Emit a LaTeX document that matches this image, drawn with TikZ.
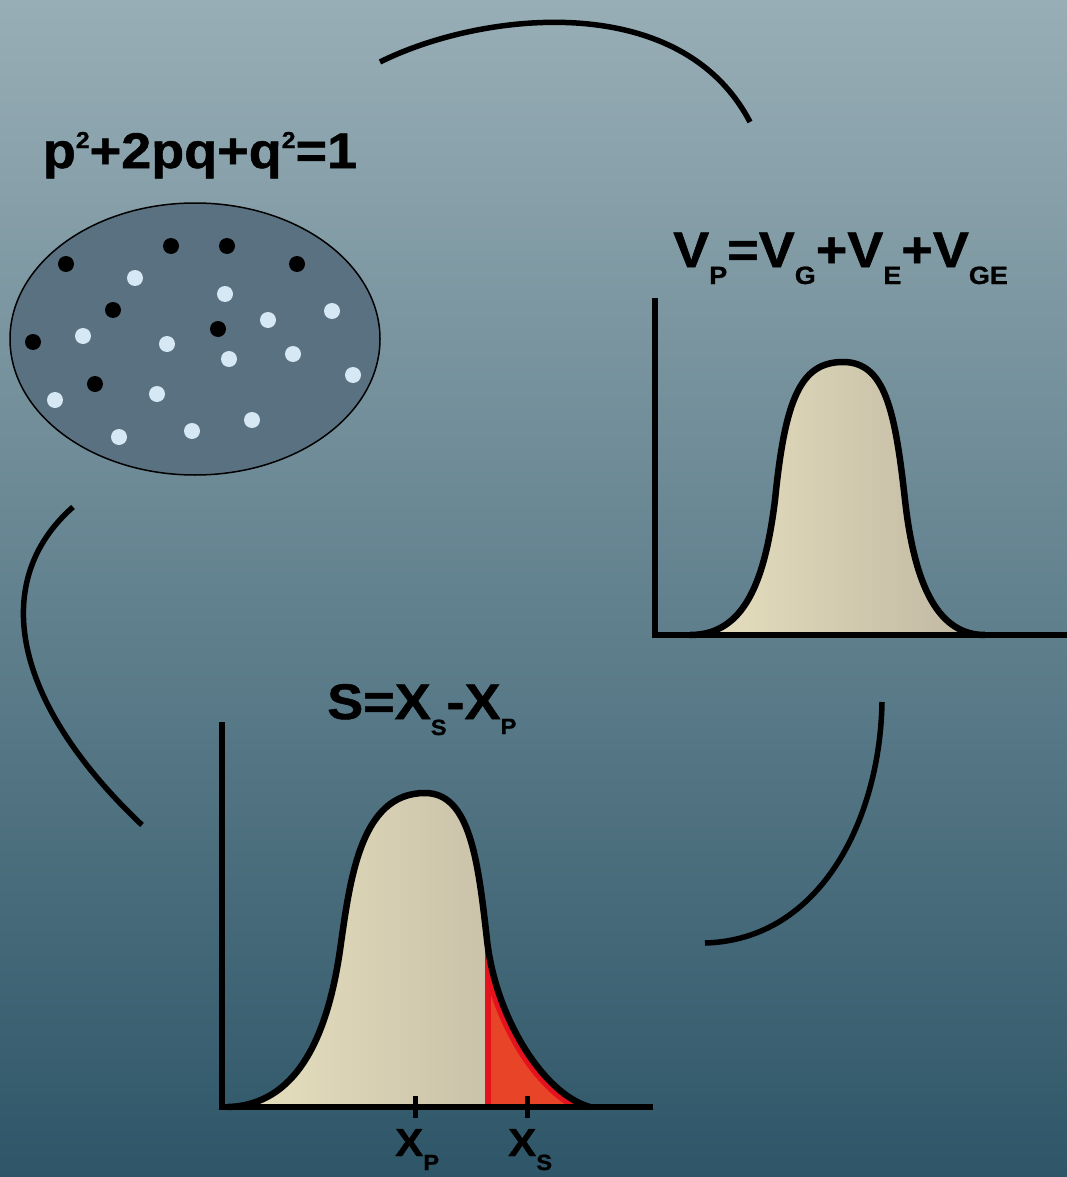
\documentclass[tikz,border=0pt]{standalone}
\usepackage{fontspec}
\setmainfont{Liberation Sans}[BoldFeatures={FakeStretch=1.08,FakeBold=1}]
\usetikzlibrary{positioning,shapes.geometric}
\definecolor{bgtop}{RGB}{152,174,182}
\definecolor{bgbot}{RGB}{46,86,104}
\definecolor{popn}{RGB}{90,113,129}
\definecolor{allele}{RGB}{215,232,245}
\definecolor{bellL}{RGB}{232,225,192}
\definecolor{bellR}{RGB}{190,182,160}
\definecolor{selrim}{RGB}{228,18,28}
\definecolor{sel}{RGB}{232,68,40}
\newcommand\lowidx[3][25]{\raisebox{-#3pt}{\fontsize{#1}{#1}\selectfont #2}}
\newcommand\highidx[1]{\raisebox{20pt}{\fontsize{23}{23}\selectfont #1}}
\newcommand\bellV{(690,635) .. controls (745,635) and (765,580) .. (775,500)
  .. controls (785,400) and (800,362) .. (843,362) .. controls (885,362) and (895,410) .. (905,500)
  .. controls (915,590) and (940,635) .. (985,635)}
\newcommand\bellS{(228,1107) .. controls (295,1105) and (327,1040) .. (340,950)
  .. controls (350,880) and (360,793) .. (425,793) .. controls (470,793) and (478,860) .. (487,940)
  .. controls (496,1020) and (545,1095) .. (590,1107)}
\begin{document}
\begin{tikzpicture}[x=1pt,y=-1pt,
  lbl/.style={inner sep=0pt,font=\fontsize{50}{54}\selectfont\bfseries},
  xlbl/.style={inner sep=0pt,font=\fontsize{39}{42}\selectfont\bfseries},
  axis/.style={line width=6pt},
  bell/.style={line width=6.5pt,line join=round},
  link/.style={line width=5.5pt},
  popbox/.style={draw,ellipse,fill=popn,line width=1.5pt,minimum width=370pt,minimum height=272pt}]
  \shade[top color=bgtop,bottom color=bgbot] (0,0) rectangle (1067,1177);
  \useasboundingbox (0,0) rectangle (1067,1177);

  % population
  \node[lbl,anchor=base] (hw) at (200,168) {p\highidx{2}+2pq+q\highidx{2}=1};
  \node[popbox] (pop) at (195,339) {};
  \foreach \x/\y in {66/264,171/246,227/246,297/264,113/310,218/329,33/342,95/384}
    \fill (\x,\y) circle (8);
  \foreach \x/\y in {135/278,225/294,332/311,268/320,83/336,167/344,229/359,293/354,353/375,
    55/400,157/394,252/420,192/431,119/437}
    \fill[allele] (\x,\y) circle (8);

  % phenotypic variance
  \node[lbl,anchor=base west] (vp) at (673,267) {V\lowidx{P}{17}=V\lowidx{G}{17}+V\lowidx{E}{17}+V\lowidx{GE}{17}};
  \coordinate (vtop) at (655,298);
  \coordinate (vorg) at (655,635);
  \coordinate (vend) at (1067,635);
  \shade[left color=bellL,right color=bellR] \bellV -- cycle;
  \draw[bell] \bellV;
  \draw[axis] (vtop) -- (vorg) -- (vend);

  % selection
  \node[lbl,anchor=base west] (sd) at (327,719) {S=X\lowidx[22]{S}{16}-X\lowidx[22]{P}{15}};
  \coordinate (stop) at (222,722);
  \coordinate (sorg) at (222,1107);
  \coordinate (send) at (653,1107);
  \coordinate (xp) at (415,1107);
  \coordinate (xs) at (527,1107);
  \shade[left color=bellL,right color=bellR] \bellS -- cycle;
  \begin{scope}
    \clip \bellS -- cycle;
    \clip (485,700) rectangle (700,1107);
    \fill[selrim] (485,700) rectangle (700,1107);
    \fill[sel] (491,700) rectangle (700,1107);
    \draw[selrim,line width=16pt] \bellS;
  \end{scope}
  \draw[bell] \bellS;
  \draw[axis] (stop) -- (sorg) -- (send);
  \draw[axis,line width=5pt] ([yshift=11pt]xp) -- ([yshift=-11pt]xp);
  \draw[axis,line width=5pt] ([yshift=11pt]xs) -- ([yshift=-11pt]xs);
  \node[xlbl,anchor=base west] (lp) at (395,1156) {X\lowidx[22]{P}{14}};
  \node[xlbl,anchor=base west] (ls) at (508,1156) {X\lowidx[22]{S}{14}};

  % cycle
  \coordinate (c1) at (380,62);
  \coordinate (c2) at (750,122);
  \coordinate (c3) at (882,702);
  \coordinate (c4) at (705,943);
  \coordinate (c5) at (142,825);
  \coordinate (c6) at (73,507);
  \draw[link] (c1) .. controls (480,12) and (680,-12) .. (c2);
  \draw[link] (c3) .. controls (880,820) and (820,940) .. (c4);
  \draw[link] (c6) .. controls (-10,580) and (10,700) .. (c5);
\end{tikzpicture}
\end{document}
